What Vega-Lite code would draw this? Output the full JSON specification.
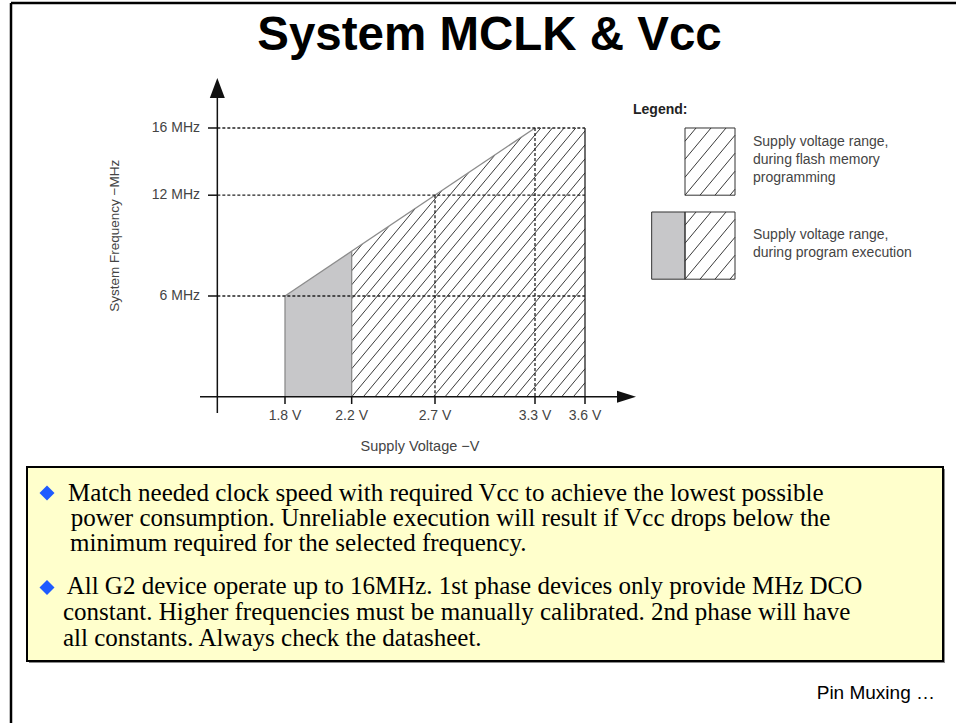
{
  "$schema": "https://vega.github.io/schema/vega-lite/v6.json",
  "width": 956,
  "height": 723,
  "autosize": {"type": "none"},
  "padding": 0,
  "background": "white",
  "config": {"view": {"stroke": null}},
  "datasets": {
    "border": [
      {"v": 0.156, "f": 23.44, "v2": 5.826, "f2": 23.44},
      {"v": 0.156, "f": 23.44, "v2": 0.156, "f2": -19.417}
    ],
    "shadow": [{"v": 0.264, "f": -4.298, "v2": 5.76, "f2": -15.845}],
    "box": [{"v": 0.252, "f": -4.179, "v2": 5.748, "f2": -15.726}],
    "bullets": [{"v": 0.372, "f": -5.726}, {"v": 0.372, "f": -11.35}],
    "para": [
      {"v": 0.498, "f": -6.173, "label": "Match needed clock speed with required Vcc to achieve the lowest possible"},
      {"v": 0.514, "f": -7.69, "label": "power consumption. Unreliable execution will result if Vcc drops below the"},
      {"v": 0.51, "f": -9.208, "label": "minimum required for the selected frequency."},
      {"v": 0.49, "f": -11.768, "label": "All G2 device operate up to 16MHz. 1st phase devices only provide MHz DCO"},
      {"v": 0.468, "f": -13.286, "label": "constant. Higher frequencies must be manually calibrated. 2nd phase will have"},
      {"v": 0.468, "f": -14.804, "label": "all constants. Always check the datasheet."}
    ],
    "grayArea": [{"v": 1.8, "f": 6}, {"v": 2.2, "f": 8.667}],
    "hatch": [
      {"v": 2.2, "f": 8.33, "v2": 2.264, "f2": 9.095},
      {"v": 2.2, "f": 7.497, "v2": 2.4235, "f2": 10.157},
      {"v": 2.2, "f": 6.664, "v2": 2.5827, "f2": 11.218},
      {"v": 2.2, "f": 5.831, "v2": 2.7419, "f2": 12.279},
      {"v": 2.2, "f": 4.998, "v2": 2.901, "f2": 13.34},
      {"v": 2.2, "f": 4.165, "v2": 3.0602, "f2": 14.401},
      {"v": 2.2, "f": 3.332, "v2": 3.2194, "f2": 15.463},
      {"v": 2.2, "f": 2.499, "v2": 3.3345, "f2": 16},
      {"v": 2.2, "f": 1.666, "v2": 3.4045, "f2": 16},
      {"v": 2.2, "f": 0.833, "v2": 3.4745, "f2": 16},
      {"v": 2.2, "f": 0, "v2": 3.5445, "f2": 16},
      {"v": 2.27, "f": 0, "v2": 3.6, "f2": 15.827},
      {"v": 2.34, "f": 0, "v2": 3.6, "f2": 14.994},
      {"v": 2.41, "f": 0, "v2": 3.6, "f2": 14.161},
      {"v": 2.48, "f": 0, "v2": 3.6, "f2": 13.328},
      {"v": 2.55, "f": 0, "v2": 3.6, "f2": 12.495},
      {"v": 2.62, "f": 0, "v2": 3.6, "f2": 11.662},
      {"v": 2.69, "f": 0, "v2": 3.6, "f2": 10.829},
      {"v": 2.76, "f": 0, "v2": 3.6, "f2": 9.996},
      {"v": 2.83, "f": 0, "v2": 3.6, "f2": 9.163},
      {"v": 2.9, "f": 0, "v2": 3.6, "f2": 8.33},
      {"v": 2.97, "f": 0, "v2": 3.6, "f2": 7.497},
      {"v": 3.04, "f": 0, "v2": 3.6, "f2": 6.664},
      {"v": 3.11, "f": 0, "v2": 3.6, "f2": 5.831},
      {"v": 3.18, "f": 0, "v2": 3.6, "f2": 4.998},
      {"v": 3.25, "f": 0, "v2": 3.6, "f2": 4.165},
      {"v": 3.32, "f": 0, "v2": 3.6, "f2": 3.332},
      {"v": 3.39, "f": 0, "v2": 3.6, "f2": 2.499},
      {"v": 3.46, "f": 0, "v2": 3.6, "f2": 1.666},
      {"v": 3.53, "f": 0, "v2": 3.6, "f2": 0.833}
    ],
    "grayEdges": [
      {"v": 1.8, "f": 6, "v2": 3.3, "f2": 16},
      {"v": 1.8, "f": 0, "v2": 1.8, "f2": 6},
      {"v": 2.2, "f": 0, "v2": 2.2, "f2": 8.667}
    ],
    "darkEdges": [{"v": 3.6, "f": 0, "v2": 3.6, "f2": 16}],
    "dashes": [
      {"v": 1.394, "f": 16, "v2": 3.6, "f2": 16},
      {"v": 1.394, "f": 12, "v2": 3.6, "f2": 12},
      {"v": 1.394, "f": 6, "v2": 3.6, "f2": 6},
      {"v": 2.7, "f": 12, "v2": 2.7, "f2": 0},
      {"v": 3.3, "f": 16, "v2": 3.3, "f2": 0}
    ],
    "axisLines": [
      {"v": 1.394, "f": -0.964, "v2": 1.394, "f2": 17.9},
      {"v": 1.29, "f": 0, "v2": 3.8, "f2": 0},
      {"v": 1.8, "f": 0, "v2": 1.8, "f2": -0.43},
      {"v": 2.2, "f": 0, "v2": 2.2, "f2": -0.43},
      {"v": 2.7, "f": 0, "v2": 2.7, "f2": -0.43},
      {"v": 3.3, "f": 0, "v2": 3.3, "f2": -0.43},
      {"v": 3.6, "f": 0, "v2": 3.6, "f2": -0.43},
      {"v": 1.338, "f": 16, "v2": 1.394, "f2": 16},
      {"v": 1.338, "f": 12, "v2": 1.394, "f2": 12},
      {"v": 1.338, "f": 6, "v2": 1.394, "f2": 6}
    ],
    "arrowUp": [{"v": 1.394, "f": 18.381}],
    "arrowRight": [{"v": 3.849, "f": 0}],
    "xLabels": [
      {"v": 1.8, "f": -1.125, "label": "1.8 V"},
      {"v": 2.2, "f": -1.125, "label": "2.2 V"},
      {"v": 2.7, "f": -1.125, "label": "2.7 V"},
      {"v": 3.3, "f": -1.125, "label": "3.3 V"},
      {"v": 3.6, "f": -1.125, "label": "3.6 V"}
    ],
    "yLabels": [
      {"v": 1.29, "f": 16, "label": "16 MHz"},
      {"v": 1.29, "f": 12, "label": "12 MHz"},
      {"v": 1.29, "f": 6, "label": "6 MHz"}
    ],
    "xTitle": [{"v": 2.61, "f": -2.97, "label": "Supply Voltage −V"}],
    "yTitle": [{"v": 0.78, "f": 9.583, "label": "System Frequency −MHz"}],
    "legendGray": [{"v": 4.0, "f": 7, "v2": 4.2, "f2": 11}],
    "legendHatch": [
      {"v": 4.2, "f": 15.213, "v2": 4.2661, "f2": 16},
      {"v": 4.2, "f": 14.142, "v2": 4.3561, "f2": 16},
      {"v": 4.2, "f": 13.071, "v2": 4.4461, "f2": 16},
      {"v": 4.2, "f": 12, "v2": 4.5, "f2": 15.57},
      {"v": 4.29, "f": 12, "v2": 4.5, "f2": 14.499},
      {"v": 4.38, "f": 12, "v2": 4.5, "f2": 13.428},
      {"v": 4.47, "f": 12, "v2": 4.5, "f2": 12.357},
      {"v": 4.2, "f": 10.213, "v2": 4.2661, "f2": 11},
      {"v": 4.2, "f": 9.142, "v2": 4.3561, "f2": 11},
      {"v": 4.2, "f": 8.071, "v2": 4.4461, "f2": 11},
      {"v": 4.2, "f": 7, "v2": 4.5, "f2": 10.57},
      {"v": 4.29, "f": 7, "v2": 4.5, "f2": 9.499},
      {"v": 4.38, "f": 7, "v2": 4.5, "f2": 8.428},
      {"v": 4.47, "f": 7, "v2": 4.5, "f2": 7.357}
    ],
    "legendBoxes": [
      {"v": 4.2, "f": 12, "v2": 4.5, "f2": 16},
      {"v": 4.0, "f": 7, "v2": 4.5, "f2": 11},
      {"v": 4.2, "f": 7, "v2": 4.2, "f2": 11}
    ],
    "legendTitle": [{"v": 3.888, "f": 17.071, "label": "Legend:"}],
    "legendText": [
      {"v": 4.608, "f": 15.167, "label": "Supply voltage range,"},
      {"v": 4.608, "f": 14.095, "label": "during flash memory"},
      {"v": 4.608, "f": 13.024, "label": "programming"},
      {"v": 4.608, "f": 9.631, "label": "Supply voltage range,"},
      {"v": 4.608, "f": 8.56, "label": "during program execution"}
    ],
    "title": [{"v": 3.027, "f": 20.643, "label": "System MCLK & Vcc"}],
    "footer": [{"v": 5.7, "f": -18.006, "label": "Pin Muxing …"}]
  },
  "encoding": {
    "x": {"field": "v", "type": "quantitative", "scale": {"domain": [0.09, 5.826], "nice": false, "zero": false}, "axis": null},
    "y": {"field": "f", "type": "quantitative", "scale": {"domain": [-19.417, 23.619], "nice": false, "zero": false}, "axis": null}
  },
  "layer": [
    {"data": {"name": "border"}, "mark": {"type": "rule", "color": "black", "strokeWidth": 2.5},
     "encoding": {"x2": {"field": "v2"}, "y2": {"field": "f2"}}},
    {"data": {"name": "shadow"}, "mark": {"type": "rect", "fill": "#8a8a8a"},
     "encoding": {"x2": {"field": "v2"}, "y2": {"field": "f2"}}},
    {"data": {"name": "box"}, "mark": {"type": "rect", "fill": "#FFFFCC", "stroke": "black", "strokeWidth": 2},
     "encoding": {"x2": {"field": "v2"}, "y2": {"field": "f2"}}},
    {"data": {"name": "bullets"}, "mark": {"type": "point", "shape": "diamond", "size": 225, "filled": true, "color": "#1F5BFF", "opacity": 1}},
    {"data": {"name": "para"}, "mark": {"type": "text", "font": "Liberation Serif", "fontSize": 25, "align": "left", "baseline": "alphabetic", "color": "black"},
     "encoding": {"text": {"field": "label"}}},
    {"data": {"name": "grayArea"}, "mark": {"type": "area", "color": "#c7c7c9"},
     "encoding": {"y2": {"datum": 0}}},
    {"data": {"name": "hatch"}, "mark": {"type": "rule", "color": "#3a3a3a", "strokeWidth": 1},
     "encoding": {"x2": {"field": "v2"}, "y2": {"field": "f2"}}},
    {"data": {"name": "grayEdges"}, "mark": {"type": "rule", "color": "#8c8c8c", "strokeWidth": 1.3},
     "encoding": {"x2": {"field": "v2"}, "y2": {"field": "f2"}}},
    {"data": {"name": "darkEdges"}, "mark": {"type": "rule", "color": "#222", "strokeWidth": 1.3},
     "encoding": {"x2": {"field": "v2"}, "y2": {"field": "f2"}}},
    {"data": {"name": "dashes"}, "mark": {"type": "rule", "color": "#222", "strokeWidth": 1.3, "strokeDash": [3, 2]},
     "encoding": {"x2": {"field": "v2"}, "y2": {"field": "f2"}}},
    {"data": {"name": "axisLines"}, "mark": {"type": "rule", "color": "#111", "strokeWidth": 1.5},
     "encoding": {"x2": {"field": "v2"}, "y2": {"field": "f2"}}},
    {"data": {"name": "arrowUp"}, "mark": {"type": "point", "shape": "M-0.75,1L0,-1L0.75,1Z", "size": 400, "filled": true, "color": "#111", "opacity": 1}},
    {"data": {"name": "arrowRight"}, "mark": {"type": "point", "shape": "M-1,-0.63L1,0L-1,0.63Z", "size": 361, "filled": true, "color": "#111", "opacity": 1}},
    {"data": {"name": "xLabels"}, "mark": {"type": "text", "font": "Liberation Sans", "fontSize": 14, "align": "center", "baseline": "middle", "color": "#444"},
     "encoding": {"text": {"field": "label"}}},
    {"data": {"name": "yLabels"}, "mark": {"type": "text", "font": "Liberation Sans", "fontSize": 14, "align": "right", "baseline": "middle", "color": "#444"},
     "encoding": {"text": {"field": "label"}}},
    {"data": {"name": "xTitle"}, "mark": {"type": "text", "font": "Liberation Sans", "fontSize": 14.5, "align": "center", "baseline": "middle", "color": "#444"},
     "encoding": {"text": {"field": "label"}}},
    {"data": {"name": "yTitle"}, "mark": {"type": "text", "font": "Liberation Sans", "fontSize": 13.5, "align": "center", "baseline": "middle", "angle": 270, "color": "#444"},
     "encoding": {"text": {"field": "label"}}},
    {"data": {"name": "legendGray"}, "mark": {"type": "rect", "fill": "#c7c7c9"},
     "encoding": {"x2": {"field": "v2"}, "y2": {"field": "f2"}}},
    {"data": {"name": "legendHatch"}, "mark": {"type": "rule", "color": "#3a3a3a", "strokeWidth": 1},
     "encoding": {"x2": {"field": "v2"}, "y2": {"field": "f2"}}},
    {"data": {"name": "legendBoxes"}, "mark": {"type": "rect", "fill": "transparent", "stroke": "#333", "strokeWidth": 1},
     "encoding": {"x2": {"field": "v2"}, "y2": {"field": "f2"}}},
    {"data": {"name": "legendTitle"}, "mark": {"type": "text", "font": "Liberation Sans", "fontSize": 14, "fontWeight": "bold", "align": "left", "baseline": "middle", "color": "#222"},
     "encoding": {"text": {"field": "label"}}},
    {"data": {"name": "legendText"}, "mark": {"type": "text", "font": "Liberation Sans", "fontSize": 14, "align": "left", "baseline": "middle", "color": "#444"},
     "encoding": {"text": {"field": "label"}}},
    {"data": {"name": "title"}, "mark": {"type": "text", "font": "Liberation Sans", "fontSize": 47.5, "fontWeight": "bold", "align": "center", "baseline": "alphabetic", "color": "black"},
     "encoding": {"text": {"field": "label"}}},
    {"data": {"name": "footer"}, "mark": {"type": "text", "font": "Liberation Sans", "fontSize": 19, "align": "right", "baseline": "alphabetic", "color": "black"},
     "encoding": {"text": {"field": "label"}}}
  ]
}
